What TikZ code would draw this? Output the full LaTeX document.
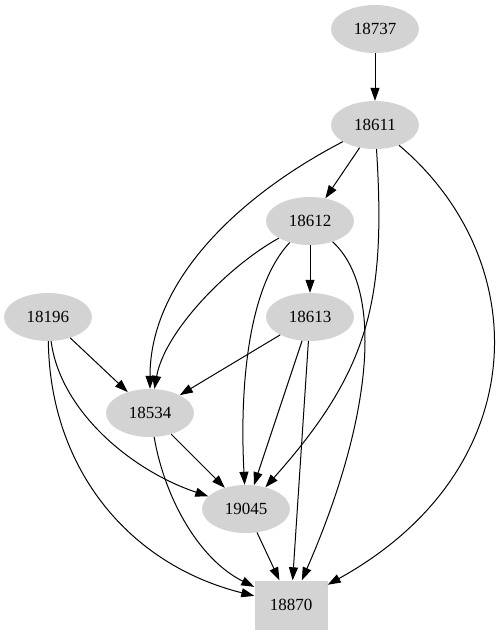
\documentclass[tikz,border=0pt]{standalone}
\usepackage{fontspec}
\setmainfont{Liberation Serif}
\usepackage{tikz}
\usetikzlibrary{arrows.meta, shapes.geometric}

\begin{document}
\begin{tikzpicture}[
      x=1pt, y=-1pt,
      myellipse/.style={
         ellipse,
         fill=lightgrey,
         inner sep=0pt,
         minimum width=88pt,
         minimum height=48pt,
         font=\fontsize{17}{20}\selectfont},
      mybox/.style={
         rectangle,
         fill=lightgrey,
         inner sep=0pt,
         minimum width=73pt,
         minimum height=49pt,
         font=\fontsize{17}{20}\selectfont},
      myarrow/.style={-{Triangle[length=13pt,width=9pt]}, line width=1pt}
      ]
      \definecolor{lightgrey}{HTML}{D3D3D3}
      \useasboundingbox (0,0) rectangle (497,635);

      \node[myellipse] at (375, 29) (n18737) {18737};
      \node[myellipse] at (375, 125) (n18611) {18611};
      \node[myellipse] at (310, 221) (n18612) {18612};
      \node[myellipse] at (310, 317) (n18613) {18613};
      \node[myellipse] at (48, 317) (n18196) {18196};
      \node[myellipse] at (150, 413) (n18534) {18534};
      \node[myellipse] at (246, 509) (n19045) {19045};
      \node[mybox] at (291, 605) (n18870) {18870};

    \foreach \i/\j in {% straight edges
      n18737/n18611,
      n18611/n18612,
      n18612/n18613,
      n18613/n18534,
      n18613/n19045,
      n18613/n18870,
      n18196/n18534,
      n18534/n19045,
      n19045/n18870}
       \draw [myarrow] (\i) -- (\j);

    \foreach \i/\ax/\ay/\bx/\by/\j in {% start node/control 1/control 2/end node
      n18611/240/195/150/280/n18534,
      n18611/386/300/370/370/n19045,
      n18611/535/260/535/470/n18870,
      n18612/230/265/165/330/n18534,
      n18612/245/290/240/400/n19045,
      n18612/385/290/372/420/n18870,
      n18196/60/410/130/470/n19045,
      n18196/50/470/130/565/n18870,
      n18534/165/500/200/560/n18870}
       \draw [myarrow] (\i) .. controls (\ax,\ay) and (\bx,\by) .. (\j);

    \end{tikzpicture}
\end{document}
